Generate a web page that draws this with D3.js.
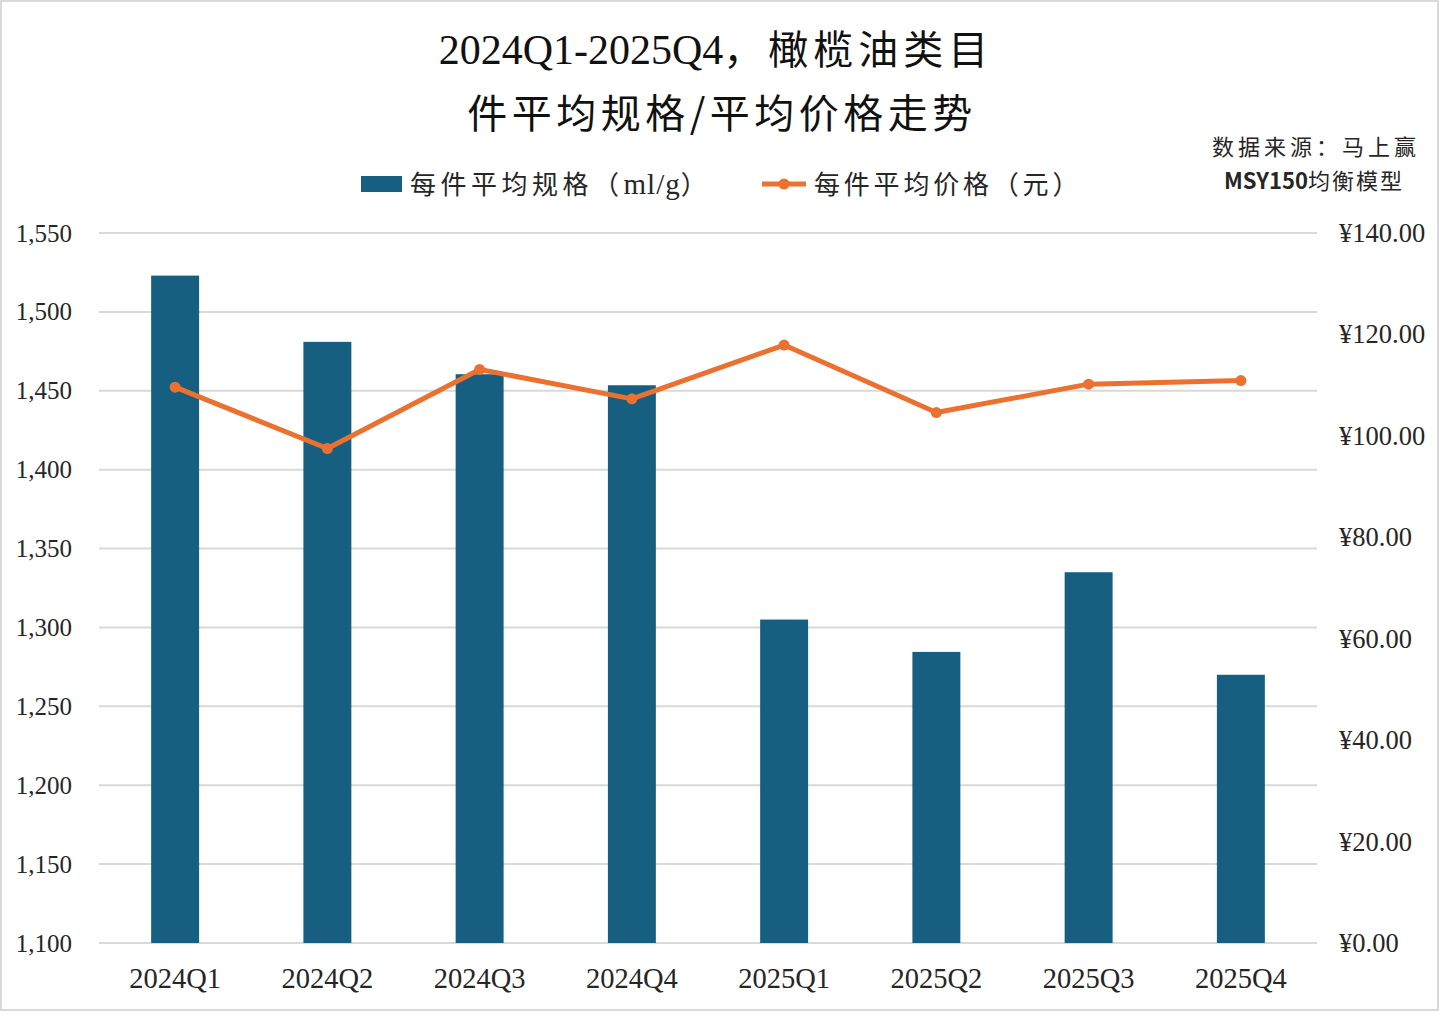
<!DOCTYPE html>
<html lang="zh-CN">
<head>
<meta charset="utf-8">
<title>橄榄油类目件平均规格/平均价格走势</title>
<script src="https://cdn.jsdelivr.net/npm/d3@7/dist/d3.min.js"></script>
<style>
  body { margin: 0; background: #fff; }
  svg text { fill: #262626; }
  .serif { font-family: "Liberation Serif", "DejaVu Serif", serif; }
  .cjk { font-family: "Noto Sans CJK SC", "Noto Sans", sans-serif; }
</style>
</head>
<body>
<div id="chart"></div>
<script>
  // data
  const quarters = ["2024Q1", "2024Q2", "2024Q3", "2024Q4", "2025Q1", "2025Q2", "2025Q3", "2025Q4"];
  const avgSize = [1523, 1481, 1460.5, 1453.5, 1305, 1284.5, 1335, 1270];   // ml/g
  const avgPrice = [109.6, 97.5, 113.1, 107.3, 117.9, 104.6, 110.2, 110.9]; // 元
  const leftTicks = [1100, 1150, 1200, 1250, 1300, 1350, 1400, 1450, 1500, 1550];
  const rightTicks = [0, 20, 40, 60, 80, 100, 120, 140];

  const width = 1439, height = 1011;
  const margin = {top: 233, right: 122, bottom: 68, left: 99};
  const barColor = "#175f80", lineColor = "#ea7130";

  const svg = d3.select("#chart").append("svg")
    .attr("width", width)
    .attr("height", height)
    .attr("viewBox", [0, 0, width, height]);

  // frame
  svg.append("rect")
    .attr("x", 1).attr("y", 1)
    .attr("width", width - 2).attr("height", height - 2)
    .attr("fill", "#fff")
    .attr("stroke", "#d9d9d9")
    .attr("stroke-width", 2);

  const x = d3.scaleBand()
    .domain(quarters)
    .range([margin.left, width - margin.right])
    .paddingInner(0.685)
    .paddingOuter(0.3425);

  const y = d3.scaleLinear()
    .domain([1100, 1550])
    .range([height - margin.bottom, margin.top]);

  const y2 = d3.scaleLinear()
    .domain([0, 140])
    .range([height - margin.bottom, margin.top]);

  // gridlines
  svg.append("g")
    .selectAll("line")
    .data(leftTicks)
    .join("line")
      .attr("x1", margin.left)
      .attr("x2", width - margin.right)
      .attr("y1", d => y(d))
      .attr("y2", d => y(d))
      .attr("stroke", "#d9d9d9")
      .attr("stroke-width", 2);

  // left axis
  const fmt = d3.format(",");
  const leftAxis = svg.append("g")
    .attr("transform", `translate(${margin.left - 27},0)`)
    .call(d3.axisLeft(y).tickValues(leftTicks).tickFormat(fmt).tickSize(0).tickPadding(0));
  leftAxis.select(".domain").remove();
  leftAxis.selectAll("text")
    .attr("class", "serif")
    .style("font-size", "25px")
    .attr("dy", "0.32em");

  // right axis
  const rightAxis = svg.append("g")
    .attr("transform", `translate(${width - margin.right + 22},0)`)
    .call(d3.axisRight(y2).tickValues(rightTicks).tickFormat(d => "¥" + d3.format(".2f")(d)).tickSize(0).tickPadding(0));
  rightAxis.select(".domain").remove();
  rightAxis.selectAll("text")
    .attr("class", "serif")
    .style("font-size", "26.5px")
    .attr("dy", "0.32em");

  // bottom axis
  const bottomAxis = svg.append("g")
    .attr("transform", `translate(0,${height - margin.bottom})`)
    .call(d3.axisBottom(x).tickSize(0).tickPadding(25));
  bottomAxis.select(".domain").remove();
  bottomAxis.selectAll("text")
    .attr("class", "serif")
    .style("font-size", "28.5px")
    .attr("dy", "0.71em");

  // bars
  svg.append("g")
    .selectAll("rect")
    .data(avgSize)
    .join("rect")
      .attr("x", (d, i) => x(quarters[i]))
      .attr("y", d => y(d))
      .attr("width", x.bandwidth())
      .attr("height", d => y(1100) - y(d))
      .attr("fill", barColor);

  // price line
  const line = d3.line()
    .x((d, i) => x(quarters[i]) + x.bandwidth() / 2)
    .y(d => y2(d));

  svg.append("path")
    .datum(avgPrice)
    .attr("d", line)
    .attr("fill", "none")
    .attr("stroke", lineColor)
    .attr("stroke-width", 5)
    .attr("stroke-linejoin", "round");

  svg.append("g")
    .selectAll("circle")
    .data(avgPrice)
    .join("circle")
      .attr("cx", (d, i) => x(quarters[i]) + x.bandwidth() / 2)
      .attr("cy", d => y2(d))
      .attr("r", 5.5)
      .attr("fill", lineColor);

  // title
  svg.append("text")
    .attr("x", 716).attr("y", 64)
    .attr("text-anchor", "middle")
    .style("font-size", "40px")
    .style("fill", "#111")
    .call(t => {
      t.append("tspan").attr("class", "serif").style("font-size", "42px").text("2024Q1-2025Q4");
      t.append("tspan").attr("class", "cjk").style("letter-spacing", "5px").text("，橄榄油类目");
    });
  svg.append("text")
    .attr("class", "cjk")
    .attr("x", 722).attr("y", 128)
    .attr("text-anchor", "middle")
    .style("font-size", "40px")
    .style("letter-spacing", "4.5px")
    .style("fill", "#111")
    .text("件平均规格/平均价格走势");

  // legend
  const legend = svg.append("g");
  legend.append("rect")
    .attr("x", 361).attr("y", 176)
    .attr("width", 41).attr("height", 16)
    .attr("fill", barColor);
  legend.append("text")
    .attr("x", 410).attr("y", 194)
    .style("font-size", "26px")
    .call(t => {
      t.append("tspan").attr("class", "cjk").style("letter-spacing", "4.5px").text("每件平均规格（");
      t.append("tspan").attr("class", "serif").style("font-size", "29px").style("letter-spacing", "1px").text("ml/g");
      t.append("tspan").attr("class", "cjk").text("）");
    });
  legend.append("line")
    .attr("x1", 762).attr("x2", 806)
    .attr("y1", 184).attr("y2", 184)
    .attr("stroke", lineColor)
    .attr("stroke-width", 5);
  legend.append("circle")
    .attr("cx", 784).attr("cy", 184).attr("r", 5.5)
    .attr("fill", lineColor);
  legend.append("text")
    .attr("class", "cjk")
    .attr("x", 814).attr("y", 194)
    .style("font-size", "26px")
    .style("letter-spacing", "3.8px")
    .text("每件平均价格（元）");

  // source note
  svg.append("text")
    .attr("class", "cjk")
    .attr("x", 1316).attr("y", 155)
    .attr("text-anchor", "middle")
    .style("font-size", "22px")
    .style("letter-spacing", "4px")
    .text("数据来源：马上赢");
  svg.append("text")
    .attr("x", 1314).attr("y", 189)
    .attr("text-anchor", "middle")
    .style("font-size", "22px")
    .call(t => {
      t.append("tspan").attr("class", "cjk").style("font-weight", "bold").text("MSY150");
      t.append("tspan").attr("class", "cjk").style("letter-spacing", "2px").text("均衡模型");
    });
</script>
</body>
</html>
